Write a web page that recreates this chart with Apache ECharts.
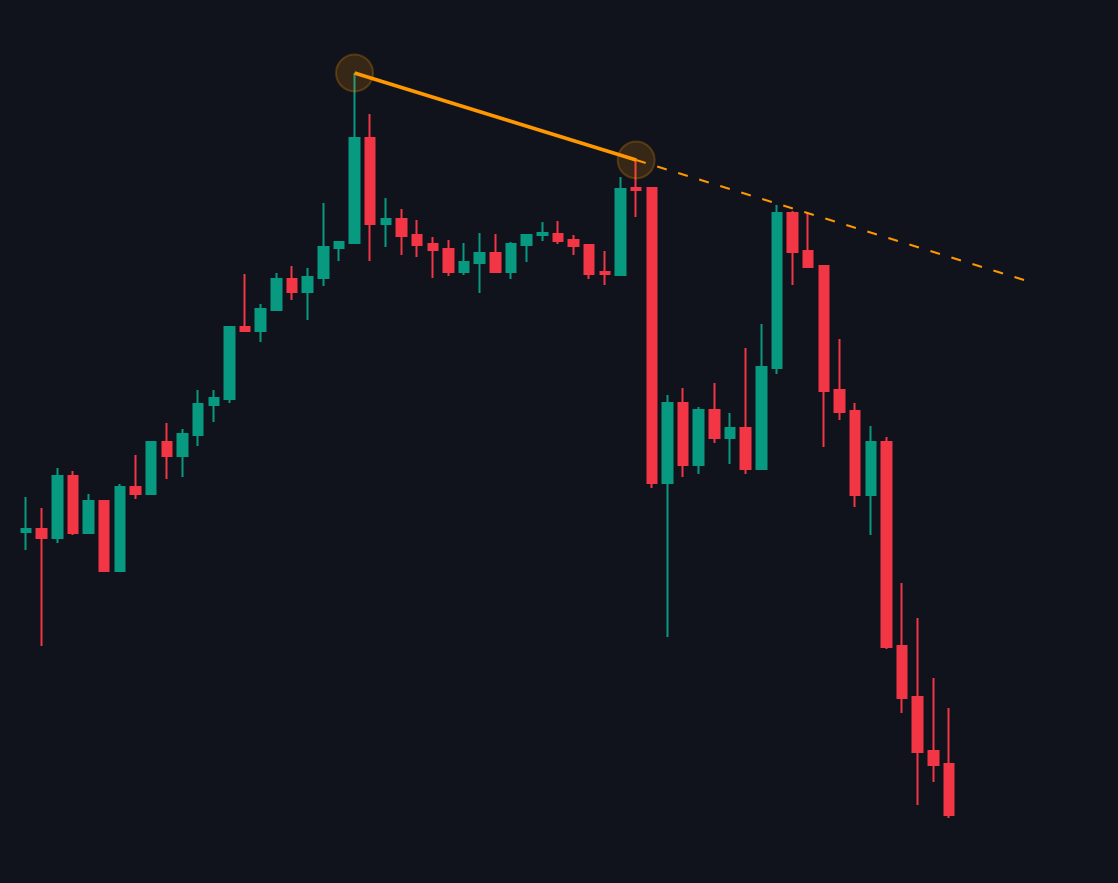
<!DOCTYPE html>
<html>
<head>
<meta charset="utf-8">
<script src="https://cdn.jsdelivr.net/npm/echarts@6/dist/echarts.min.js"></script>
<style>
	html, body { margin: 0; padding: 0; background: #10131c; }
	#chart { width: 1118px; height: 883px; }
</style>
</head>
<body>
<div id="chart"></div>
<script>
'use strict';
// 60 candles, last 10 slots on the axis stay empty
var slotCount = 70;
var categories = Array.from({length: slotCount}, function (_, i) { return String(i + 1); });

var opens = [35.1, 35.4, 34.5, 40.7, 35.0, 38.2, 31.2, 39.6, 38.9, 44.1,
	42.7, 44.8, 47.8, 48.4, 55.6, 55.2, 57.3, 60.4, 59.1, 60.5,
	63.5, 64.0, 74.5, 65.9, 66.4, 64.8, 63.9, 63.4, 61.1, 62.0,
	63.0, 61.1, 63.8, 64.8, 64.9, 64.3, 63.8, 61.1, 60.8, 69.5,
	69.5, 40.0, 48.0, 41.8, 47.3, 44.5, 45.5, 41.4, 51.5, 67.0,
	63.2, 61.7, 49.3, 47.2, 38.8, 44.1, 23.7, 18.6, 13.2, 11.9];
var closes = [35.4, 34.5, 40.7, 35.0, 38.2, 31.2, 39.6, 38.9, 44.1, 42.7,
	44.9, 47.9, 48.5, 55.6, 55.2, 57.4, 60.4, 59.1, 60.6, 63.6,
	64.1, 74.5, 65.9, 66.4, 64.7, 63.8, 63.3, 61.1, 62.1, 63.0,
	61.1, 63.9, 64.8, 65.0, 64.2, 63.7, 60.9, 60.9, 69.4, 69.3,
	40.0, 48.0, 41.8, 47.3, 44.5, 45.5, 41.4, 51.6, 67.0, 63.1,
	61.6, 49.2, 47.1, 38.8, 44.1, 23.6, 18.5, 13.1, 11.8, 6.8];
var lows = [33.3, 23.7, 34.0, 34.8, 35.0, 31.1, 31.2, 38.4, 38.9, 40.4,
	40.6, 43.7, 46.1, 48.0, 55.1, 54.1, 57.3, 58.3, 56.3, 59.7,
	62.2, 64.0, 62.2, 63.6, 62.8, 62.6, 60.5, 60.7, 60.8, 59.0,
	61.1, 60.4, 62.1, 64.2, 63.9, 62.8, 60.4, 59.8, 60.8, 66.6,
	39.5, 24.6, 40.6, 40.9, 44.0, 41.9, 40.9, 41.4, 50.9, 59.8,
	61.6, 43.6, 46.3, 37.6, 34.8, 23.4, 17.0, 7.8, 10.1, 6.5];
var highs = [38.6, 37.5, 41.5, 41.2, 38.9, 38.2, 39.9, 42.8, 44.1, 46.0,
	45.4, 49.3, 49.3, 55.6, 60.9, 57.9, 61.0, 61.7, 61.5, 68.0,
	64.1, 81.0, 76.9, 68.5, 67.4, 66.3, 64.6, 64.3, 64.0, 65.0,
	64.9, 64.1, 64.8, 66.1, 66.2, 64.8, 63.8, 63.2, 70.6, 72.5,
	69.5, 48.8, 49.5, 47.6, 50.0, 47.0, 53.5, 55.9, 67.8, 67.2,
	67.0, 61.7, 54.4, 48.0, 45.7, 44.6, 30.0, 26.5, 20.5, 17.5];

// trendline anchors [slot index, price] and its dashed projection
var trendPoints = [[21, 81.0], [39, 72.3]];
var projection = [[39, 72.3], [64, 60.2]];

var candles = opens.map(function (o, i) {
	return [o, closes[i], lows[i], highs[i]];
});

var chart = echarts.init(document.getElementById('chart'));
var option = {
	animation: false,
	backgroundColor: '#10131c',
	grid: { left: 18.2, right: 4.7, top: 0, bottom: 0 },
	xAxis: {
		type: 'category',
		data: categories,
		boundaryGap: true,
		show: false
	},
	yAxis: {
		type: 'value',
		min: 0,
		max: 88.3,
		show: false,
		splitLine: { show: false }
	},
	series: [
		{
			type: 'candlestick',
			data: candles,
			barWidth: 10,
			itemStyle: {
				color: '#089981',
				color0: '#f23645',
				borderColor: '#089981',
				borderColor0: '#f23645',
				borderWidth: 2
			},
			z: 2
		},
		{
			type: 'scatter',
			data: trendPoints,
			symbolSize: 37,
			itemStyle: {
				color: 'rgba(255, 152, 0, 0.2)',
				borderColor: 'rgba(255, 152, 0, 0.3)',
				borderWidth: 2
			},
			z: 3
		},
		{
			type: 'line',
			data: projection,
			symbol: 'none',
			lineStyle: { color: '#ff9800', width: 2, type: [10, 12] },
			z: 4
		},
		{
			type: 'line',
			data: trendPoints,
			symbol: 'none',
			lineStyle: { color: '#ff9800', width: 3.5 },
			z: 5
		}
	]
};
chart.setOption(option);
</script>
</body>
</html>
